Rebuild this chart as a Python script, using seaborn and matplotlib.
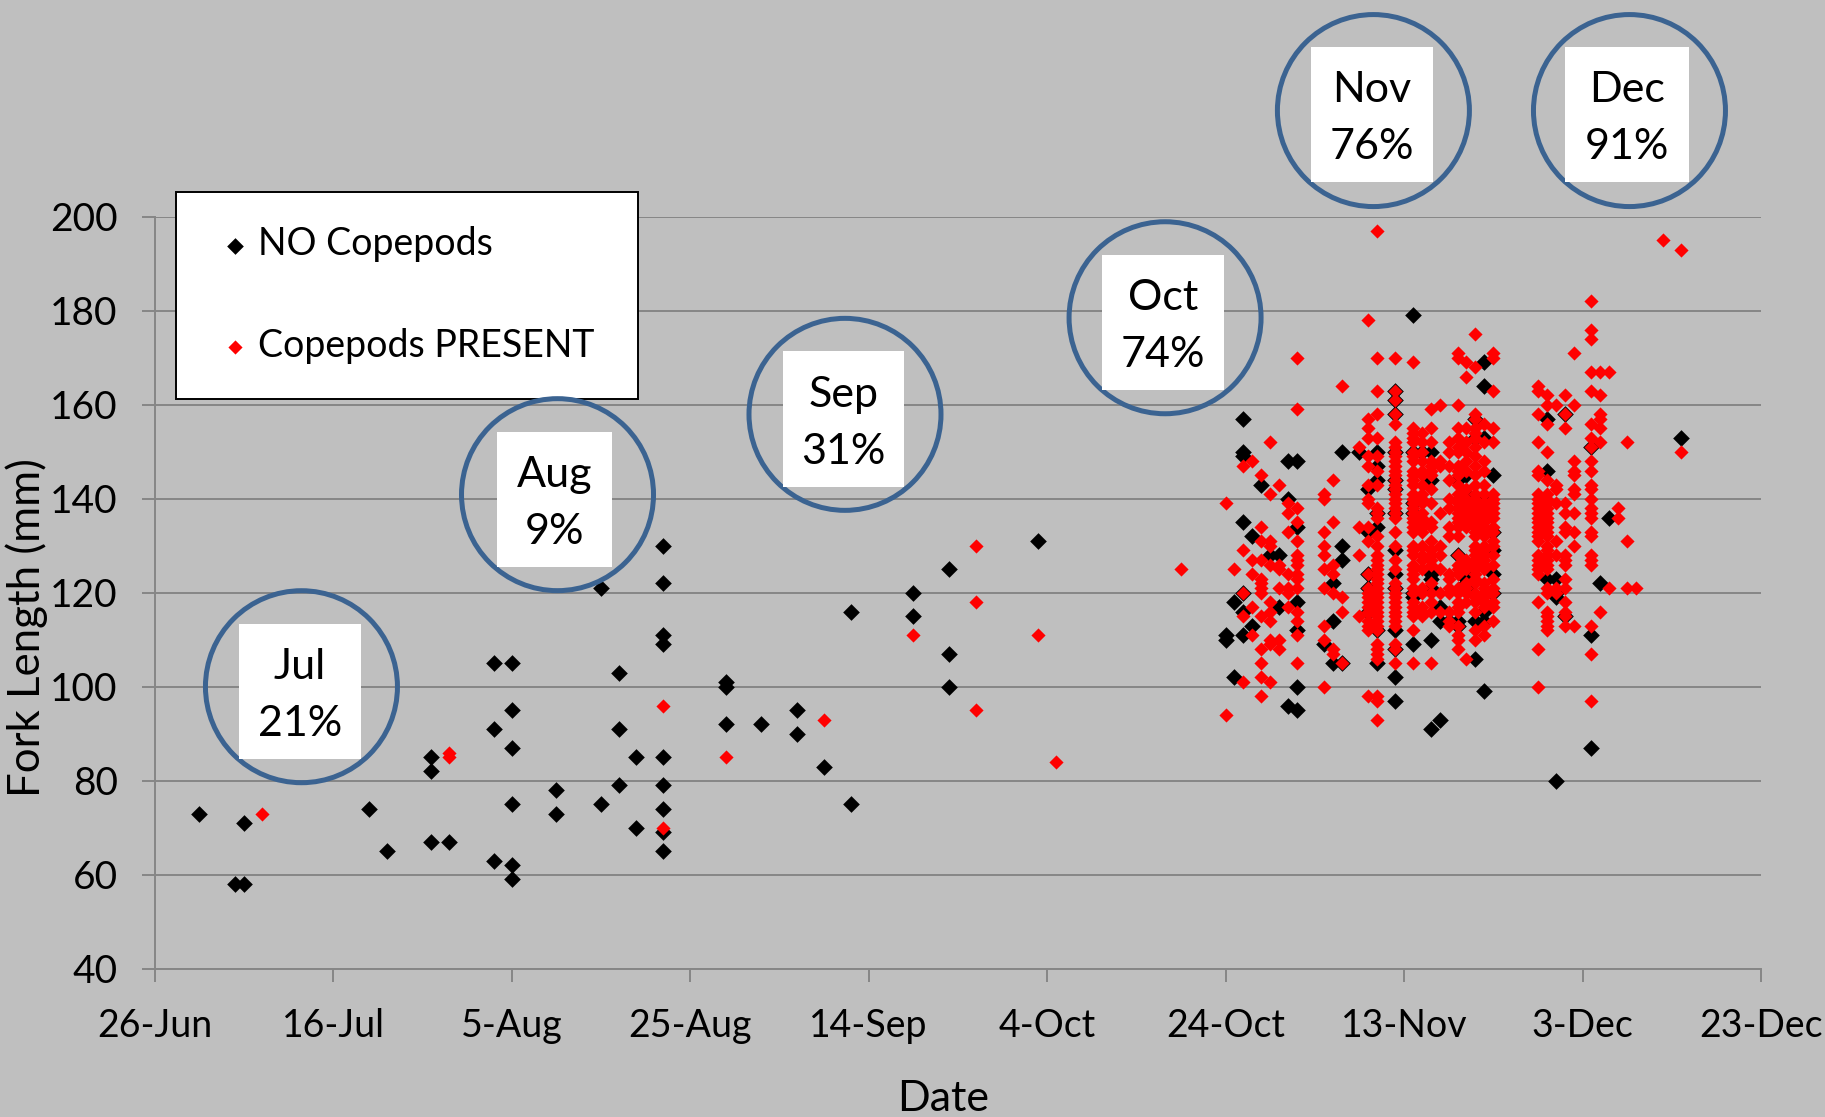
import pandas as pd
import matplotlib.pyplot as plt
import matplotlib.dates as mdates
from matplotlib.patches import Circle, Rectangle
import seaborn as sns

# days counted from 26-Jun, and the fork lengths read at each of those days
no_days = [5, 9, 10, 24, 26, 31, 33, 38, 40, 45, 50, 52, 54, 57, 64, 68, 72, 75, 78,
           85, 89, 99, 120, 121, 122, 123, 124, 125, 126, 127, 128, 131, 132, 133,
           135, 136, 137, 139, 141, 142, 143, 144, 145, 146, 147, 148, 149, 150,
           156, 157, 158, 161, 162, 163, 171]
no_lengths = [[73], [58], [71, 58], [74], [65], [85, 82, 67], [67], [105, 91, 63],
              [105, 95, 87, 75, 62, 59], [78, 73], [121, 75], [103, 91, 79], [85, 70],
              [130, 122, 111, 109, 85, 79, 74, 69, 65], [101, 100, 92], [92], [95, 90],
              [83], [116, 75], [120, 115], [125, 107, 100], [131],
              [111, 110], [118, 102], [157, 150, 149, 135, 120, 116, 111], [132, 113],
              [143], [128], [128, 117], [148, 140, 96], [148, 134, 118, 112, 100, 95],
              [109], [122, 114, 105], [150, 130, 127, 105], [150],
              [142, 133, 124, 121, 116], [150, 147, 144, 137, 134, 112, 105],
              [163, 161, 158, 150, 144, 142, 137, 129, 124, 121, 112, 108, 102, 97],
              [179, 150, 139, 137, 120, 119, 109], [150], [150, 144, 124, 123, 121, 110, 91],
              [117, 114, 93], [114], [144, 128, 114, 113], [145, 141, 124, 123, 122, 121],
              [157, 153, 114, 106], [169, 164, 153, 140, 116, 114, 99],
              [145, 133, 129, 124, 120], [157, 146, 123], [123, 120, 119, 80],
              [158, 115], [151, 111, 87], [122], [136], [153]]

present_days = [12, 33, 57, 64, 75, 85, 92, 99, 101, 115, 120, 121, 122, 123, 124, 125,
                126, 127, 128, 131, 132, 133, 135, 136, 137, 139, 141, 142, 143, 144,
                145, 146, 147, 148, 149, 150, 155, 156, 157, 158, 159, 161, 162, 163,
                164, 165, 166, 169, 171]
present_lengths = [
    [73], [86, 85], [96, 70], [85], [93], [111], [130, 118, 95], [111], [84], [125],
    [139, 94], [125], [147, 129, 120, 115, 101], [148, 127, 124, 117, 111],
    [145, 134, 131, 127, 123, 122, 121, 120, 115, 108, 105, 102, 98],
    [152, 141, 131, 130, 126, 118, 116, 114, 110, 109, 101],
    [143, 126, 125, 121, 110, 108], [139, 137, 133, 124, 121, 120, 117],
    [170, 159, 138, 135, 131, 128, 127, 126, 124, 123, 121, 116, 114, 111, 105],
    [141, 140, 133, 130, 128, 125, 121, 113, 110, 100],
    [144, 135, 126, 124, 120, 108, 107], [164, 119, 116, 105], [151, 134, 128, 115],
    [178, 157, 155, 153, 149, 147, 143, 140, 139, 134, 131, 124, 121, 120, 119, 118,
     117, 116, 114, 113, 112, 98],
    [197, 170, 163, 158, 153, 149, 146, 143, 138, 137, 136, 132, 130, 128, 127, 126,
     125, 124, 123, 122, 121, 120, 119, 118, 117, 116, 115, 114, 113, 112, 109, 108,
     107, 106, 98, 97, 93],
    [170, 163, 161, 158, 156, 152, 151, 150, 149, 148, 147, 146, 145, 144, 143, 142,
     141, 140, 139, 138, 137, 136, 133, 130, 127, 125, 122, 121, 120, 119, 118, 117,
     116, 115, 114, 113, 109, 108, 105],
    [169, 155, 154, 153, 152, 150, 149, 148, 146, 145, 144, 143, 141, 140, 139, 138,
     137, 136, 135, 134, 133, 130, 129, 128, 126, 125, 124, 123, 121, 120, 118, 117,
     116, 115, 112, 105],
    [154, 152, 150, 148, 146, 145, 143, 141, 140, 139, 137, 136, 135, 134, 133, 130,
     128, 127, 125, 121, 120, 117, 116, 115],
    [159, 155, 152, 148, 147, 146, 145, 142, 139, 135, 134, 131, 129, 128, 127, 126,
     122, 120, 118, 116, 105],
    [160, 148, 147, 137, 130, 128, 125, 120, 116],
    [152, 150, 147, 144, 140, 138, 134, 132, 124, 123, 121, 120, 116, 114, 113],
    [171, 170, 160, 155, 153, 151, 150, 147, 146, 145, 143, 141, 140, 139, 138, 137,
     136, 135, 134, 132, 128, 126, 125, 124, 121, 120, 118, 117, 116, 113, 111, 110,
     108],
    [169, 166, 155, 152, 150, 148, 146, 142, 140, 139, 138, 137, 136, 135, 134, 127,
     126, 125, 122, 121, 120, 118, 106],
    [175, 168, 158, 157, 155, 154, 153, 151, 149, 147, 145, 143, 141, 140, 139, 138,
     137, 136, 135, 134, 133, 132, 130, 129, 128, 127, 126, 125, 124, 123, 122, 120,
     119, 118, 116, 112, 110],
    [156, 152, 148, 146, 143, 141, 139, 138, 137, 136, 135, 134, 133, 132, 130, 129,
     128, 127, 126, 125, 122, 121, 120, 119, 118, 117, 113, 111],
    [171, 170, 163, 155, 152, 141, 140, 139, 138, 137, 136, 134, 133, 131, 130, 128,
     126, 123, 121, 120, 118, 117, 114],
    [164, 163, 158, 152, 146, 145, 141, 140, 139, 138, 137, 136, 135, 134, 133, 132,
     131, 128, 127, 126, 125, 124, 118, 108, 100],
    [162, 160, 156, 150, 144, 141, 140, 139, 138, 137, 136, 135, 134, 133, 132, 130,
     129, 128, 127, 126, 125, 121, 120, 116, 115, 114, 113, 112],
    [160, 143, 142, 139, 131, 128, 121, 120],
    [162, 158, 155, 139, 137, 134, 133, 128, 127, 126, 123, 121, 118, 116, 115, 113],
    [171, 160, 148, 146, 145, 142, 141, 137, 133, 130, 113],
    [182, 176, 174, 167, 163, 156, 153, 151, 148, 146, 143, 142, 140, 138, 137, 136,
     133, 132, 128, 127, 126, 113, 107, 97],
    [167, 162, 158, 157, 155, 152, 116], [167, 121], [138, 136], [152, 131, 121], [121],
    [195], [193, 150],
]

# month callouts
months = ["Jul", "Aug", "Sep", "Oct", "Nov", "Dec"]
percents = ["21%", "9%", "31%", "74%", "76%", "91%"]

y_ticks = [40, 60, 80, 100, 120, 140, 160, 180, 200]
x_tick_days = [0, 20, 40, 60, 80, 100, 120, 140, 160, 180]

FIG_W, FIG_H = 1825, 1117
BG = "#BFBFBF"
GRID = "#868686"
FONT = "Lato"
start = pd.Timestamp("2012-06-26")


def to_frame(days, lengths):
    df = pd.DataFrame({"day": days, "fork": lengths}).explode("fork")
    df["fork"] = df["fork"].astype(int)
    df["date"] = start + pd.to_timedelta(df["day"].astype(int), unit="D")
    return df


sns.set_theme(style="white")
plt.rcParams["font.family"] = [FONT, "DejaVu Sans"]

fig = plt.figure(figsize=(FIG_W / 100, FIG_H / 100), dpi=100, facecolor=BG)
ax = fig.add_axes([154.5 / FIG_W, 1 - 968.7 / FIG_H, 1606.5 / FIG_W, 752 / FIG_H], facecolor=BG)

sns.scatterplot(data=to_frame(no_days, no_lengths), x="date", y="fork", ax=ax,
                marker="D", s=72, color="black", linewidth=0, label="NO Copepods", zorder=3)
sns.scatterplot(data=to_frame(present_days, present_lengths), x="date", y="fork", ax=ax,
                marker="D", s=52, color="#FF0000", linewidth=0, label="Copepods PRESENT", zorder=4)

ax.set_ylim(40, 200)
ax.set_yticks(y_ticks)
x_ticks = [start + pd.Timedelta(days=d) for d in x_tick_days]
ax.set_xlim(x_ticks[0], x_ticks[-1])
ax.set_xticks(x_ticks)
ax.xaxis.set_major_formatter(mdates.DateFormatter("%-d-%b"))
ax.grid(axis="y", color=GRID, linewidth=1.4)
ax.set_axisbelow(True)
for side in ["top", "right"]:
    ax.spines[side].set_visible(False)
for side in ["left", "bottom"]:
    ax.spines[side].set_color(GRID)
    ax.spines[side].set_linewidth(1.4)
ax.tick_params(axis="both", length=9.5, width=1.4, color=GRID, labelcolor="black", bottom=True, left=True)
ax.tick_params(axis="x", pad=19, labelsize=27)
ax.tick_params(axis="y", pad=17, labelsize=28)

ax.set_xlabel("Date", fontsize=31, color="black")
ax.set_ylabel("Fork Length (mm)", fontsize=31.5, color="black")
ax.xaxis.set_label_coords((943 - 154.5) / 1606.5, -(1099 - 968.7) / 752, transform=ax.transAxes)
ax.yaxis.set_label_coords((27 - 154.5) / 1606.5, (968.7 - 628) / 752, transform=ax.transAxes)
ax.xaxis.label.set_va("center")
ax.yaxis.label.set_va("center")

leg = ax.legend(loc="upper left", bbox_to_anchor=((176 - 154.5) / 1606.5, (968.7 - 192) / 752, 462 / 1606.5, 0),
                mode="expand", fontsize=27, frameon=True, fancybox=False, framealpha=1,
                facecolor="white", edgecolor="black", labelspacing=1.75, borderpad=0.92,
                handlelength=1.3, handletextpad=-0.02, markerscale=1.0, borderaxespad=0)
leg.get_frame().set_linewidth(1.4)
leg.set_zorder(6)
for t in leg.get_texts():
    t.set_color("black")

# callouts are placed in pixel coordinates of the picture
over = fig.add_axes([0, 0, 1, 1], facecolor="none")
over.set_xlim(0, FIG_W)
over.set_ylim(FIG_H, 0)
over.axis("off")

scale = FIG_W / 1568
circle_xy = [(259, 590), (479, 425), (726, 356), (1001, 273), (1180, 95), (1400, 95)]
box_xywh = [(205, 536, 105, 116), (427, 371, 99, 116), (673, 302, 104, 116),
            (947, 219, 105, 116), (1126, 40, 105, 116), (1345, 40, 106, 116)]
for month, pct, (cx, cy), (bx, by, bw, bh) in zip(months, percents, circle_xy, box_xywh):
    over.add_patch(Circle((cx * scale, cy * scale), 96, fill=False, edgecolor="#3B6391", linewidth=3.6))
    over.add_patch(Rectangle((bx * scale, by * scale), bw * scale, bh * scale, facecolor="white", edgecolor="none"))
    mid = (bx + bw / 2) * scale
    over.text(mid, (by + 37) * scale, month, ha="center", va="center", fontsize=31, color="black")
    over.text(mid, (by + 86) * scale, pct, ha="center", va="center", fontsize=31, color="black")

fig.savefig("out.png", dpi=100, facecolor=BG)
